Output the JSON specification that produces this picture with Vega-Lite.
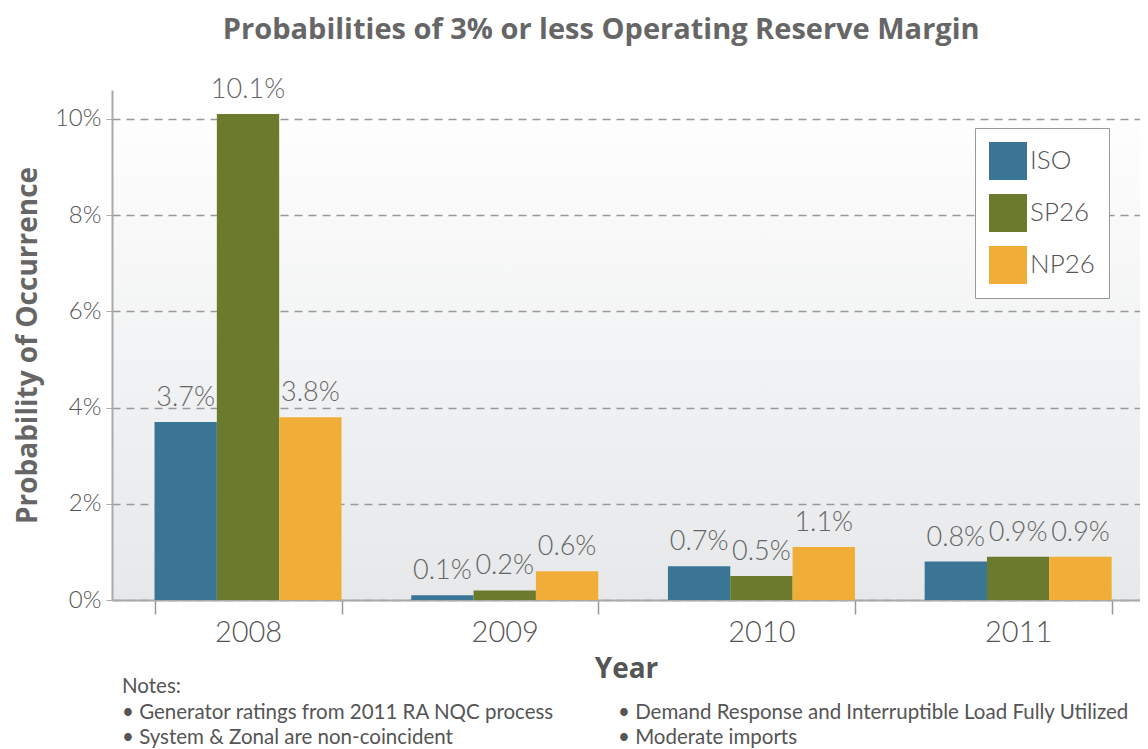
{
  "$schema": "https://vega.github.io/schema/vega-lite/v6.json",
  "background": "white",
  "padding": {"left": 14, "top": 16, "right": 0, "bottom": 0},
  "title": {"text": "Probabilities of 3% or less Operating Reserve Margin", "fontSize": 29, "font": "Open Sans", "fontWeight": "bold", "color": "#666666", "anchor": "middle", "offset": 31, "dx": 24},
  "config": {"view": {"stroke": null}, "font": "Lato"},
  "spacing": -34,
  "vconcat": [
    {
      "width": 1028,
      "height": 510,
      "view": {"stroke": null, "fill": {"gradient": "linear", "x1": 0, "y1": 0, "x2": 0, "y2": 1, "stops": [{"offset": 0, "color": "#ffffff"}, {"offset": 1, "color": "#e6e8ea"}]}},
      "data": {"values": [
        {"year": "2008", "zone": "ISO", "value": 3.7, "label": "3.7%"},
        {"year": "2008", "zone": "SP26", "value": 10.1, "label": "10.1%"},
        {"year": "2008", "zone": "NP26", "value": 3.8, "label": "3.8%"},
        {"year": "2009", "zone": "ISO", "value": 0.1, "label": "0.1%"},
        {"year": "2009", "zone": "SP26", "value": 0.2, "label": "0.2%"},
        {"year": "2009", "zone": "NP26", "value": 0.6, "label": "0.6%"},
        {"year": "2010", "zone": "ISO", "value": 0.7, "label": "0.7%"},
        {"year": "2010", "zone": "SP26", "value": 0.5, "label": "0.5%"},
        {"year": "2010", "zone": "NP26", "value": 1.1, "label": "1.1%"},
        {"year": "2011", "zone": "ISO", "value": 0.8, "label": "0.8%"},
        {"year": "2011", "zone": "SP26", "value": 0.9, "label": "0.9%"},
        {"year": "2011", "zone": "NP26", "value": 0.9, "label": "0.9%"}
      ]},
      "encoding": {
        "x": {"field": "year", "type": "nominal", "scale": {"paddingInner": 0.2715, "paddingOuter": 0.138, "align": 0.6},
          "axis": {"title": "Year", "titleFont": "Open Sans", "titleFontSize": 28, "titleFontWeight": "bold", "titleColor": "#555555", "titlePadding": 8,
            "labelFontSize": 29, "labelColor": "#555555", "labelFontWeight": 300, "labelAngle": 0, "labelPadding": 4, "tickBand": "extent", "ticks": true, "tickSize": 14, "tickColor": "#999999", "tickWidth": 1.5,
            "domainColor": "#aaaaaa", "domainWidth": 2, "grid": false}},
        "xOffset": {"field": "zone", "sort": ["ISO", "SP26", "NP26"]},
        "y": {"field": "value", "type": "quantitative", "scale": {"domain": [0, 10.6], "nice": false},
          "axis": {"values": [0, 2, 4, 6, 8, 10], "labelExpr": "datum.value + '%'", "labelFontSize": 24, "labelColor": "#555555", "labelFontWeight": 300, "labelPadding": 5,
            "grid": true, "gridDash": [8, 6], "gridColor": "#999999", "gridWidth": 1.5, "ticks": true, "tickSize": 6, "tickColor": "#aaaaaa",
            "domain": true, "domainColor": "#aaaaaa", "domainWidth": 2,
            "title": "Probability of Occurrence", "titleFont": "Open Sans", "titleFontSize": 28, "titleFontWeight": "bold", "titleColor": "#666666", "titlePadding": 12}}
      },
      "layer": [
        {
          "mark": {"type": "bar"},
          "encoding": {
            "color": {"field": "zone", "type": "nominal", "sort": ["ISO", "SP26", "NP26"],
              "scale": {"domain": ["ISO", "SP26", "NP26"], "range": ["#3b7596", "#6b7a2d", "#f0ae38"]},
              "legend": {"title": null, "orient": "none", "legendX": 863, "legendY": 38, "strokeColor": "#999999", "fillColor": "#ffffff", "padding": 14,
                "symbolType": "square", "symbolSize": 1444, "symbolStrokeWidth": 0, "symbolOpacity": 1, "labelFontSize": 26, "labelFontWeight": 300, "labelColor": "#555555", "rowPadding": 14, "labelOffset": 3}}
          }
        },
        {
          "mark": {"type": "text", "baseline": "bottom", "dy": -10, "fontSize": 27, "fontWeight": 300, "color": "#666666"},
          "encoding": {"text": {"field": "label"}}
        }
      ]
    },
    {
      "width": 1028,
      "height": 60,
      "data": {"values": [
        {"col": 0, "row": 0, "note": "Notes:"},
        {"col": 0, "row": 1, "note": "• Generator ratings from 2011 RA NQC process"},
        {"col": 0, "row": 2, "note": "• System & Zonal are non-coincident"},
        {"col": 1, "row": 1, "note": "• Demand Response and Interruptible Load Fully Utilized"},
        {"col": 1, "row": 2, "note": "• Moderate imports"}
      ]},
      "mark": {"type": "text", "align": "left", "baseline": "top", "fontSize": 20.5, "color": "#555555"},
      "encoding": {
        "x": {"field": "col", "type": "quantitative", "scale": {"domain": [0, 1], "range": [10, 506]}, "axis": null},
        "y": {"field": "row", "type": "quantitative", "scale": {"domain": [0, 2], "range": [-6, 45]}, "axis": null},
        "text": {"field": "note"}
      }
    }
  ]
}
